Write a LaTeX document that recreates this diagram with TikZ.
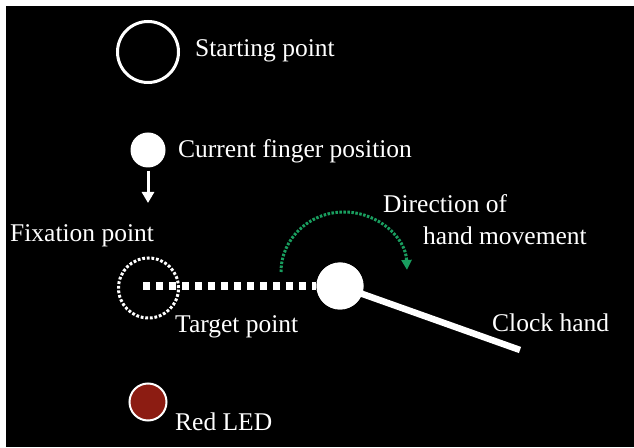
\documentclass[tikz,border=0pt]{standalone}
\usepackage{fontspec}
\setmainfont{Liberation Serif}
\usetikzlibrary{arrows.meta}
\definecolor{arcgreen}{RGB}{25,158,95}
\definecolor{ledred}{RGB}{140,28,18}
\begin{document}
\begin{tikzpicture}[x=1pt,y=1pt,
  lbl/.style={anchor=base west,inner sep=0pt,text=white,font=\rmfamily\fontsize{25.5}{30}\selectfont},
  ringnode/.style={circle,draw=white,line width=3pt,minimum size=61pt,inner sep=0pt},
  dotring/.style={circle,draw=white,line width=3pt,dash pattern=on 2.8pt off 1.8pt,minimum size=60pt,inner sep=0pt},
  dotnode/.style={circle,fill=white,minimum size=35pt,inner sep=0pt},
  pivot/.style={circle,fill=white,minimum size=47pt,inner sep=0pt},
  lednode/.style={circle,fill=ledred,draw=white,line width=2pt,minimum size=37pt,inner sep=0pt},
  dashline/.style={white,line width=7.5pt,dash pattern=on 7pt off 6pt},
  handline/.style={white,line width=6.5pt},
  movearrow/.style={arcgreen,line width=3pt,dash pattern=on 2.5pt off 1.5pt,-{Triangle[width=10pt,length=10pt]}},
  downarrow/.style={white,line width=3pt,-{Triangle[width=12pt,length=11pt]}}]
\useasboundingbox (0,0) rectangle (634,447);
\fill[white] (0,0) rectangle (634,447);
\fill[black] (6,0) rectangle (634,441);

% nodes
\node[ringnode] (start) at (148,395) {};
\node[dotnode] (finger) at (148,297) {};
\coordinate (arrowend) at (148,244);
\node[dotring] (fix) at (148.5,159) {};
\coordinate (dashstart) at (143,161);
\coordinate (handend) at (520,97);
\node[pivot] (hub) at (340,161) {};
\node[lednode] (led) at (148,45) {};

% connectors
\draw[downarrow,shorten <=3pt] (finger) -- (arrowend);
\draw[dashline] (dashstart) -- (hub.west);
\draw[handline] (hub.center) -- (handend);
\node[pivot] at (hub) {};
\coordinate (arcstart) at (281,175);
\draw[movearrow] (arcstart) arc[start angle=180,end angle=2,x radius=63,y radius=60];

% labels
\node[lbl] (tstart) at (195,390) {Starting point};
\node[lbl] (tfinger) at (178,289) {Current finger position};
\node[lbl] (tfix) at (10,205) {Fixation point};
\node[lbl] (tdir1) at (383,234) {Direction of};
\node[lbl] (tdir2) at (423,202) {hand movement};
\node[lbl] (ttarget) at (175,114) {Target point};
\node[lbl] (tclock) at (492,115) {Clock hand};
\node[lbl] (tled) at (175,17) {Red LED};
\end{tikzpicture}
\end{document}
